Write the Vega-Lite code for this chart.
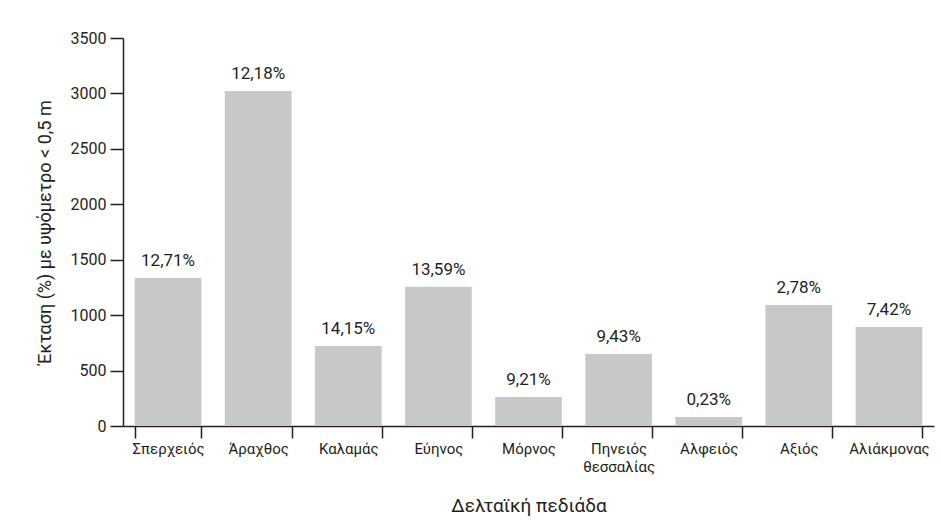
{
  "$schema": "https://vega.github.io/schema/vega-lite/v6.json",
  "width": 811,
  "height": 388,
  "autosize": {"type": "none"},
  "padding": {"left": 123, "top": 38, "right": 7, "bottom": 103},
  "background": "white",
  "config": {
    "view": {"stroke": null},
    "font": "Roboto",
    "axis": {"domainColor": "#231f20", "tickColor": "#231f20", "labelColor": "#231f20", "titleColor": "#231f20", "domainWidth": 1.5, "tickWidth": 1.5, "grid": false, "labelFont": "Roboto", "titleFont": "Roboto", "titleFontWeight": "normal"}
  },
  "data": {
    "values": [
      {"plain": "Σπερχειός", "area": 1335, "pct": "12,71%"},
      {"plain": "Άραχθος", "area": 3022, "pct": "12,18%"},
      {"plain": "Καλαμάς", "area": 722, "pct": "14,15%"},
      {"plain": "Εύηνος", "area": 1255, "pct": "13,59%"},
      {"plain": "Μόρνος", "area": 262, "pct": "9,21%"},
      {"plain": "Πηνειός θεσσαλίας", "area": 650, "pct": "9,43%"},
      {"plain": "Αλφειός", "area": 81, "pct": "0,23%"},
      {"plain": "Αξιός", "area": 1091, "pct": "2,78%"},
      {"plain": "Αλιάκμονας", "area": 893, "pct": "7,42%"}
    ]
  },
  "encoding": {
    "x": {
      "field": "plain", "type": "nominal", "sort": null,
      "scale": {"paddingInner": 0.26, "paddingOuter": 0.13},
      "axis": {
        "title": "Δελταϊκή πεδιάδα", "titleFontSize": 19, "titlePadding": 22,
        "labelAngle": 0, "labelFontSize": 15, "labelPadding": 3, "labelLineHeight": 18,
        "labelExpr": "split(datum.label, ' ')",
        "tickBand": "extent", "tickSize": 12
      }
    },
    "y": {
      "field": "area", "type": "quantitative",
      "scale": {"domain": [0, 3500], "nice": false},
      "axis": {
        "title": "Έκταση (%) με υψόμετρο < 0,5 m", "titleFontSize": 18, "titlePadding": 16,
        "values": [0, 500, 1000, 1500, 2000, 2500, 3000, 3500], "format": "d",
        "labelFontSize": 16, "labelPadding": 4, "tickSize": 13
      }
    }
  },
  "layer": [
    {"mark": {"type": "bar", "color": "#c7c8ca"}},
    {"mark": {"type": "text", "baseline": "alphabetic", "dy": -12, "fontSize": 17, "color": "#231f20"}, "encoding": {"text": {"field": "pct"}}}
  ]
}
